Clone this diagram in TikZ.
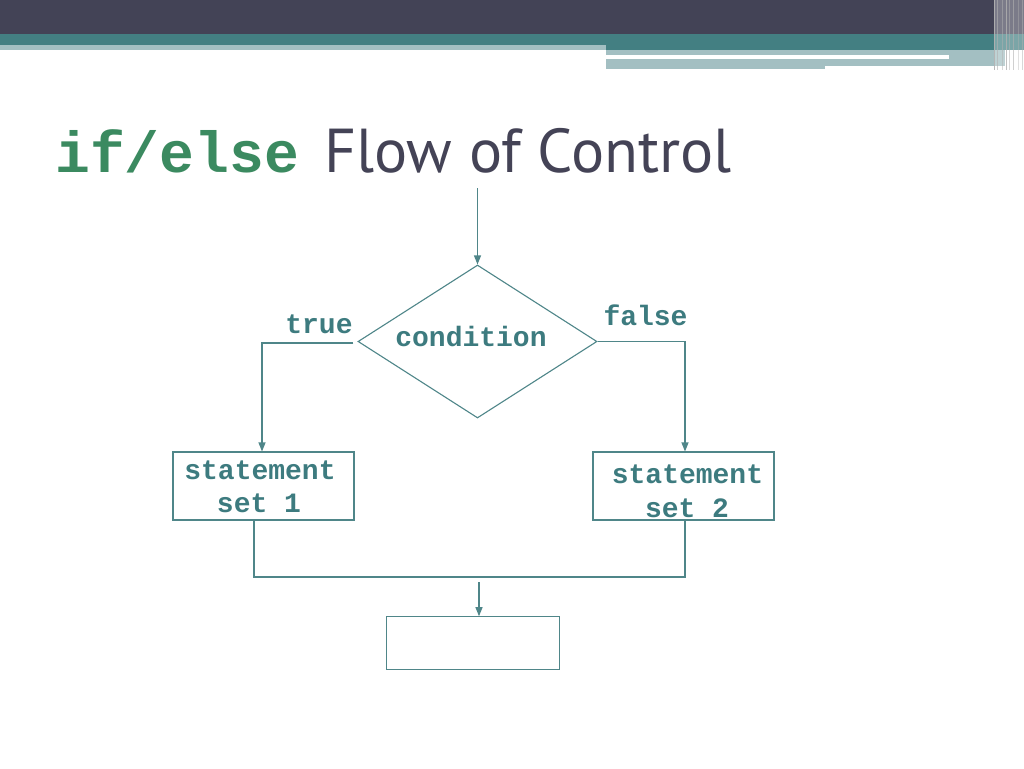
\documentclass[tikz,border=0pt]{standalone}
\usepackage{fontspec}
\setmainfont{PT Sans}
\newfontfamily\monof{Liberation Mono}
\usetikzlibrary{shapes.geometric,arrows.meta}
\definecolor{darkc}{HTML}{434356}
\definecolor{tealc}{HTML}{437F82}
\definecolor{lightc}{HTML}{A3BFC2}
\definecolor{linec}{HTML}{4F8689}
\definecolor{textc}{HTML}{3D7B7F}
\definecolor{greenc}{HTML}{3B8A60}
\definecolor{titlec}{HTML}{444356}
\begin{document}
\begin{tikzpicture}[x=1pt,y=-1pt,
  line/.style={draw=linec, line width=1.1pt},
  arr/.style={line, -{Triangle[length=9pt,width=7pt]}},
  box/.style={draw=linec, line width=1.1pt, inner sep=0pt, minimum width=181pt, minimum height=68pt},
  lbl/.style={font=\monof\bfseries\fontsize{28}{34}\selectfont, text=textc, inner sep=0pt},
  stripe/.style={draw=gray!60, line width=0.8pt}]
\useasboundingbox[fill=white] (0,0) rectangle (1024,768);
% banner
\fill[darkc] (0,0) rectangle (1024,34);
\fill[tealc] (0,34) rectangle (1024,45);
\fill[tealc] (606,45) rectangle (1024,50);
\fill[lightc] (0,45) rectangle (606,50);
\fill[lightc] (606,50) rectangle (1005,55);
\fill[lightc] (949,55) rectangle (1005,58.5);
\fill[lightc] (606,58.5) rectangle (825,69);
\fill[lightc] (825,58.5) rectangle (1005,66);
\fill[white, opacity=0.3] (994,0) rectangle (1024,70);
\foreach \sx/\op in {994.5/0.9,997/0.6,1002/0.5,1006/0.8,1009/0.5,1013/0.6,1018/0.4,1022/0.5}
  \draw[stripe, opacity=\op] (\sx,0) -- (\sx,70);
% title
\node[anchor=base west, inner sep=0pt, text=greenc, font=\monof\bfseries\fontsize{58}{60}\selectfont] (kw) at (55,172) {if/else};
\node[anchor=base west, inner sep=0pt, text=titlec, font=\fontsize{62}{64}\selectfont] (ttl) at (324,172) {Flow of Control};
% flowchart
\coordinate (start) at (477.5,188);
\node[diamond, draw=linec, line width=1.1pt, aspect=1.56, inner sep=0pt, minimum width=239pt, minimum height=153pt] (cond) at (477.5,341.5) {};
\node[lbl, anchor=base] (condt) at (471,346.5) {condition};
\node[lbl, anchor=base] (truet) at (319,333) {true};
\node[lbl, anchor=base] (falset) at (645.5,325) {false};
\node[box] (s1) at (263.5,486) {};
\node[box] (s2) at (683.5,486) {};
\node[box, minimum width=173.5pt, minimum height=52.5pt] (s3) at (473,643) {};
\node[lbl, anchor=base] (s1a) at (260,479) {statement};
\node[lbl, anchor=base] (s1b) at (259,512.5) {set 1};
\node[lbl, anchor=base] (s2a) at (687.5,483) {statement};
\node[lbl, anchor=base] (s2b) at (687,517) {set 2};
\coordinate (merge) at (479,577);
\draw[arr] (start) -- (cond.north);
\draw[arr] ([xshift=-4pt,yshift=-1.5pt]cond.west) -| ([xshift=-1.5pt]s1.north);
\draw[arr] (cond.east) -| ([xshift=1.5pt]s2.north);
\draw[line] ([xshift=-9.5pt]s1.south) |- (merge) -| ([xshift=1.5pt]s2.south);
\draw[arr] ([yshift=-5pt]merge) -- (s3.north -| merge);
\end{tikzpicture}
\end{document}
